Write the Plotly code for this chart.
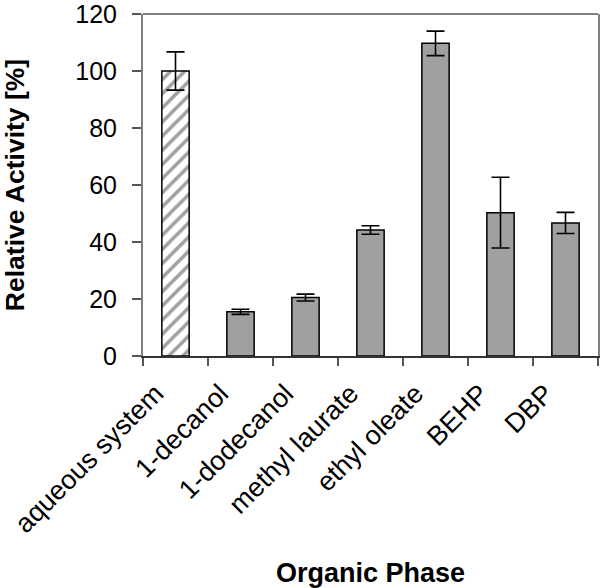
import plotly.graph_objects as go

categories = ["aqueous system", "1-decanol", "1-dodecanol", "methyl laurate",
              "ethyl oleate", "BEHP", "DBP"]
activity = [100, 15.5, 20.5, 44.2, 109.7, 50.3, 46.7]
errors = [6.7, 0.9, 1.2, 1.5, 4.3, 12.4, 3.7]
y_ticks = [0, 20, 40, 60, 80, 100, 120]

bar_colors = ["white"] + ["#a0a0a0"] * (len(categories) - 1)
patterns = ["/"] + [""] * (len(categories) - 1)

FONT = "Liberation Sans, Arial, sans-serif"

fig = go.Figure()
fig.add_trace(go.Bar(
    x=categories, y=activity, width=0.42,
    marker=dict(color=bar_colors, line=dict(color="black", width=1.5),
                pattern=dict(shape=patterns, fgcolor="#b5b5b5", size=10,
                             solidity=0.35, fillmode="overlay")),
    error_y=dict(type="data", array=errors, visible=True, color="black",
                 thickness=1.6, width=9),
))

fig.add_shape(type="line", xref="paper", yref="paper", x0=0, x1=1, y0=1, y1=1,
              line=dict(color="#808080", width=2))

fig.update_layout(
    width=600, height=588,
    margin=dict(l=143, r=2, t=14, b=232),
    paper_bgcolor="white", plot_bgcolor="white",
    showlegend=False, bargap=0.58,
    font=dict(family=FONT, size=24, color="black"),
    xaxis=dict(
        type="category", tickangle=-45, ticks="outside", tickson="boundaries",
        ticklen=8, tickcolor="#555", tickwidth=1.5, automargin=False,
        showline=True, linecolor="#333", linewidth=2, showgrid=False,
        tickfont=dict(family=FONT, size=27, color="black"),
        ticklabelshift=-20, ticklabelstandoff=9,
        title=dict(text="<b>Organic Phase</b>", font=dict(family=FONT, size=27),
                   standoff=26),
    ),
    yaxis=dict(
        range=[0, 120], tickvals=y_ticks, ticks="outside", ticklen=9,
        tickcolor="#555", tickwidth=1.5, automargin=False,
        showline=True, linecolor="#808080", linewidth=2, mirror=True,
        showgrid=False, zeroline=False,
        tickfont=dict(family=FONT, size=25, color="black"),
        ticklabelstandoff=10, ticklabeloverflow="allow",
        title=dict(text="<b>Relative Activity [%]</b>", font=dict(family=FONT, size=26.5),
                   standoff=71),
    ),
)

fig.write_html("out.html", config={"displayModeBar": False},
               post_script="document.body.style.margin='0';document.body.style.overflow='hidden';")
